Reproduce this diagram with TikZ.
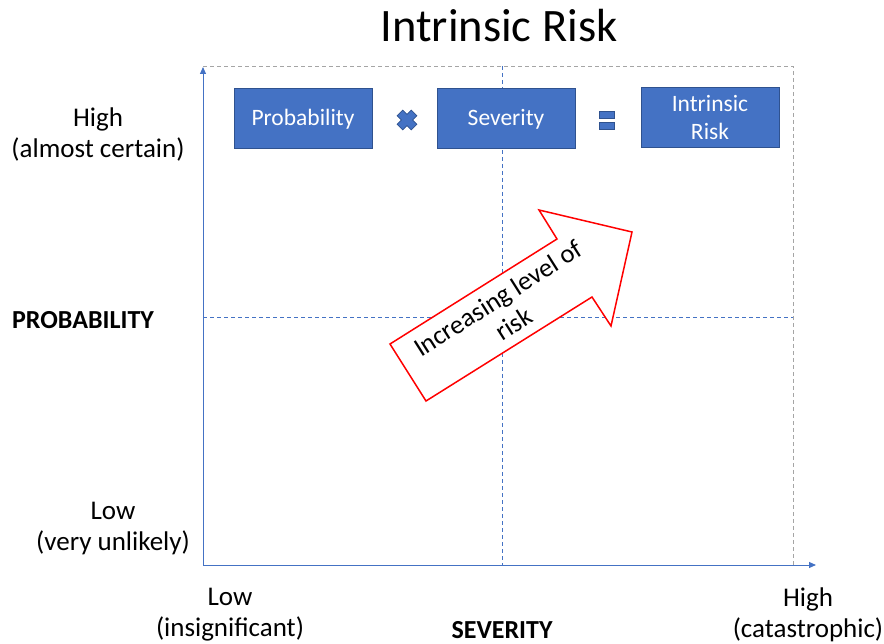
\documentclass[tikz,border=0pt]{standalone}
\usepackage{fontspec}
\setmainfont{Carlito}
\usetikzlibrary{arrows.meta}
\definecolor{azul}{HTML}{4472C4}
\definecolor{azulesc}{HTML}{2F528F}
\definecolor{cinza}{HTML}{A5A5A5}
\definecolor{vermelho}{HTML}{FF0000}
\tikzset{
  caixa/.style={draw=azulesc, fill=azul, text=white, line width=1pt,
    minimum width=138pt, minimum height=60pt, inner sep=0pt, align=center,
    font=\fontsize{23.5}{28}\selectfont},
  rotulo/.style={align=center, font=\fontsize{27}{31}\selectfont},
  negrito/.style={inner sep=0pt, font=\fontsize{26}{31}\selectfont\bfseries},
  eixo/.style={draw=azul, line width=1pt, -{Triangle[length=7pt,width=6pt]}},
  tracejado/.style={dash pattern=on 4pt off 3pt, line width=0.8pt},
  simbolo/.style={fill=azul, draw=azulesc, line width=0.8pt}
}
\begin{document}
\begin{tikzpicture}[x=1pt, y=-1pt]
  \useasboundingbox (0,0) rectangle (884,644);
  % Título
  \node[anchor=base] (titulo) at (499,42) {\fontsize{46.5}{52}\selectfont Intrinsic Risk};

  % Pontos dos eixos
  \coordinate (o) at (203,565);
  \coordinate (ytopo) at (203,67);
  \coordinate (xfim) at (816,565);
  \coordinate (cs) at (793,66);
  \coordinate (ci) at (793,565);
  \coordinate (cse) at (203,66);
  \coordinate (mcima) at (502,66);
  \coordinate (mbaixo) at (502,565);
  \coordinate (mesq) at (203,317);
  \coordinate (mdir) at (793,317);

  % Moldura tracejada e linhas do meio
  \draw[cinza, tracejado] (cse) -- (cs) -- (ci);
  \draw[azul, tracejado] (mcima) -- (mbaixo);
  \draw[azul, tracejado] (mesq) -- (mdir);

  % Eixos
  \draw[eixo] (o) -- (ytopo);
  \draw[eixo] (o) -- (xfim);

  % Caixas da fórmula
  \node[caixa] (prob) at (303,119) {Probability};
  \node[caixa] (sev) at (506,119) {Severity};
  \node[caixa] (risco) at (710,118) {Intrinsic\\Risk};

  % Sinais de vezes e igual
  \fill[simbolo, rotate around={45:(407,120)}]
    (403,110) -- (411,110) -- (411,116) -- (417,116) -- (417,124) -- (411,124)
    -- (411,130) -- (403,130) -- (403,124) -- (397,124) -- (397,116) -- (403,116) -- cycle;
  \draw[simbolo] (599,111) rectangle (614,118);
  \draw[simbolo] (599,122) rectangle (614,129);

  % Seta grande vermelha
  \draw[vermelho, line width=1.5pt, fill=white]
    (390,344) -- (557,239) -- (539,210) -- (632,232) -- (611,326)
    -- (592,297) -- (426,401) -- cycle;
  \node[align=center, rotate=32.4, font=\fontsize{26.5}{30}\selectfont] (txtseta) at (506,311) {Increasing level of\\risk};

  % Rótulos dos eixos
  \node[rotulo] (altoy) at (98,135) {High\\(almost certain)};
  \node[negrito] (proby) at (83,320) {PROBABILITY};
  \node[rotulo] (baixoy) at (113,529) {Low\\(very unlikely)};
  \node[rotulo] (baixox) at (230,615) {Low\\(insignificant)};
  \node[negrito] (sevx) at (502,630) {SEVERITY};
  \node[rotulo] (altox) at (808,615) {High\\(catastrophic)};
\end{tikzpicture}
\end{document}
